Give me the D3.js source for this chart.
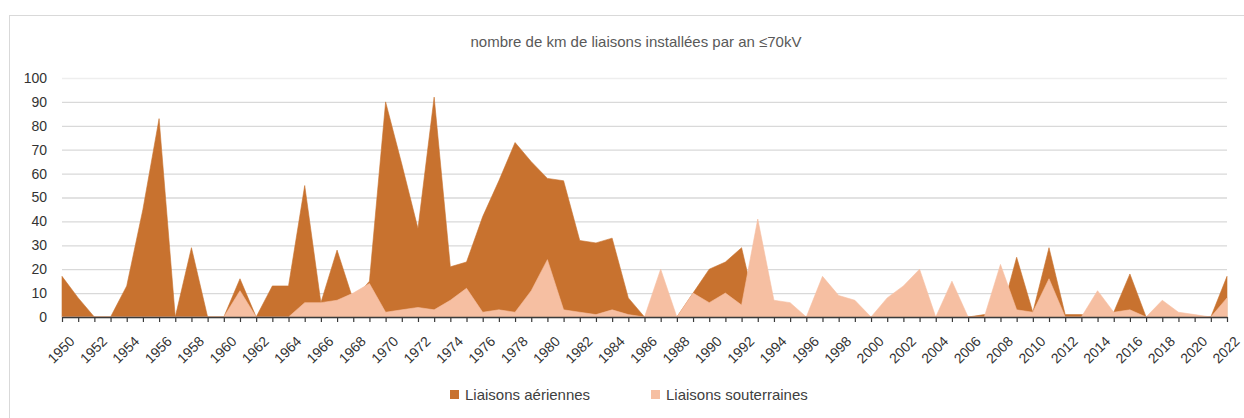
<!DOCTYPE html>
<html>
<head>
<meta charset="utf-8">
<script src="https://cdn.jsdelivr.net/npm/d3@7"></script>
<style>
  body { margin: 0; background: #fff; }
  svg text { font-family: "Liberation Sans", Arial, sans-serif; }
  .tick-label { font-size: 14px; fill: #333333; }
  .title { font-size: 15px; fill: #595959; }
  .legend-label { font-size: 15px; fill: #404040; }
</style>
</head>
<body>
<svg id="chart"></svg>
<script>
// years on the x axis
const years = [1950, 1951, 1952, 1953, 1954, 1955, 1956, 1957, 1958, 1959,
  1960, 1961, 1962, 1963, 1964, 1965, 1966, 1967, 1968, 1969,
  1970, 1971, 1972, 1973, 1974, 1975, 1976, 1977, 1978, 1979,
  1980, 1981, 1982, 1983, 1984, 1985, 1986, 1987, 1988, 1989,
  1990, 1991, 1992, 1993, 1994, 1995, 1996, 1997, 1998, 1999,
  2000, 2001, 2002, 2003, 2004, 2005, 2006, 2007, 2008, 2009,
  2010, 2011, 2012, 2013, 2014, 2015, 2016, 2017, 2018, 2019,
  2020, 2021, 2022];

// km installed per year
const aeriennes = [17, 8, 0, 0, 13, 45, 83, 0, 29, 0,
  0, 16, 0, 13, 13, 55, 6, 28, 7, 15,
  90, 64, 37, 92, 21, 23, 42, 57, 73, 65,
  58, 57, 32, 31, 33, 8, 0, 0, 0, 10,
  20, 23, 29, 0, 0, 0, 0, 0, 0, 0,
  0, 0, 0, 0, 0, 0, 0, 1, 0, 25,
  2, 29, 1, 1, 0, 2, 18, 0, 0, 0,
  0, 0, 17];

const souterraines = [0, 0, 0, 0, 0, 0, 0, 0, 0, 0,
  0, 11, 0, 0, 0, 6, 6, 7, 10, 14,
  2, 3, 4, 3, 7, 12, 2, 3, 2, 11,
  24, 3, 2, 1, 3, 1, 0, 20, 0, 10,
  6, 10, 5, 41, 7, 6, 0, 17, 9, 7,
  0, 8, 13, 20, 0, 15, 0, 0, 22, 3,
  2, 16, 0, 0, 11, 2, 3, 0, 7, 2,
  1, 0, 8];

const yTicks = [0, 10, 20, 30, 40, 50, 60, 70, 80, 90, 100];
const xLabelYears = [1950, 1952, 1954, 1956, 1958, 1960, 1962, 1964, 1966, 1968,
  1970, 1972, 1974, 1976, 1978, 1980, 1982, 1984, 1986, 1988,
  1990, 1992, 1994, 1996, 1998, 2000, 2002, 2004, 2006, 2008,
  2010, 2012, 2014, 2016, 2018, 2020, 2022];

const seriesNames = ["Liaisons aériennes", "Liaisons souterraines"];
const chartTitle = "nombre de km de liaisons installées par an ≤70kV";

class AreaChart {
  constructor(_config) {
    this.config = {
      parentElement: _config.parentElement,
      containerWidth: 1244,
      containerHeight: 418,
      margin: { top: 78, right: 17, bottom: 101, left: 62 },
      colors: ["#c8722f", "#f6bfa2"]
    };
    this.initVis();
  }

  initVis() {
    let vis = this;

    vis.width = vis.config.containerWidth - vis.config.margin.left - vis.config.margin.right;
    vis.height = vis.config.containerHeight - vis.config.margin.top - vis.config.margin.bottom;

    vis.svg = d3.select(vis.config.parentElement)
      .attr("width", vis.config.containerWidth)
      .attr("height", vis.config.containerHeight);

    // chart area border
    vis.svg.append("rect")
      .attr("x", 9.5).attr("y", 15.5)
      .attr("width", 1400).attr("height", 600)
      .attr("fill", "none")
      .attr("stroke", "#d9d9d9");

    vis.chart = vis.svg.append("g")
      .attr("transform", `translate(${vis.config.margin.left},${vis.config.margin.top})`);

    vis.xScale = d3.scaleLinear().domain([d3.min(years), d3.max(years)]).range([0, vis.width]);
    vis.yScale = d3.scaleLinear().domain([0, 100]).range([vis.height, 0]);

    // title
    vis.svg.append("text")
      .attr("class", "title")
      .attr("x", 636)
      .attr("y", 47)
      .attr("text-anchor", "middle")
      .text(chartTitle);

    vis.updateVis();
  }

  updateVis() {
    let vis = this;
    vis.series = [aeriennes, souterraines].map((vals, i) => ({
      name: seriesNames[i],
      color: vis.config.colors[i],
      values: years.map((yr, j) => ({ year: yr, value: vals[j] }))
    }));
    vis.renderVis();
  }

  renderVis() {
    let vis = this;

    // gridlines
    vis.chart.append("g")
      .attr("class", "grid")
      .call(d3.axisLeft(vis.yScale).tickValues(yTicks).tickSize(-vis.width).tickFormat(""))
      .call(g => g.select(".domain").remove())
      .call(g => g.selectAll("line")
        .attr("stroke", d => d === 100 ? "#eeeeee" : "#d9d9d9")
        .attr("stroke-width", 1.3));

    // areas (aériennes behind, souterraines in front)
    const area = d3.area()
      .x(d => vis.xScale(d.year))
      .y0(vis.yScale(0))
      .y1(d => vis.yScale(d.value));

    vis.chart.selectAll(".area")
      .data(vis.series)
      .join("path")
      .attr("class", "area")
      .attr("d", d => area(d.values))
      .attr("fill", d => d.color)
      .attr("stroke", d => d.color)
      .attr("stroke-width", 0.6);

    // y axis labels
    vis.chart.append("g")
      .call(d3.axisLeft(vis.yScale).tickValues(yTicks).tickSize(0).tickPadding(15))
      .call(g => g.select(".domain").remove())
      .call(g => g.selectAll("text").attr("class", "tick-label").attr("font-family", null).attr("font-size", null).attr("fill", null));

    // x axis: a tick every year, a label every two years
    const xAxisGroup = vis.chart.append("g")
      .attr("transform", `translate(0,${vis.height})`)
      .call(d3.axisBottom(vis.xScale)
        .tickValues(years)
        .tickSize(5)
        .tickSizeOuter(0)
        .tickFormat(d => xLabelYears.includes(d) ? d : ""));

    xAxisGroup.select(".domain").attr("stroke", "#3a3a3a").attr("stroke-width", 1.6);
    xAxisGroup.selectAll(".tick line").attr("stroke", "#3a3a3a").attr("stroke-width", 1.2);
    xAxisGroup.selectAll(".tick text")
      .attr("class", "tick-label")
      .attr("font-family", null).attr("font-size", null).attr("fill", null)
      .attr("text-anchor", "end")
      .attr("dy", "0.35em")
      .attr("transform", "translate(4,16) rotate(-45)");

    // legend
    const legend = vis.svg.append("g").attr("class", "legend");
    const legendX = [450, 651];
    vis.series.forEach((s, i) => {
      legend.append("rect")
        .attr("x", legendX[i]).attr("y", 390)
        .attr("width", 9).attr("height", 9)
        .attr("fill", s.color);
      legend.append("text")
        .attr("class", "legend-label")
        .attr("x", legendX[i] + 15)
        .attr("y", 400)
        .text(s.name);
    });
  }
}

new AreaChart({ parentElement: "#chart" });
</script>
</body>
</html>
